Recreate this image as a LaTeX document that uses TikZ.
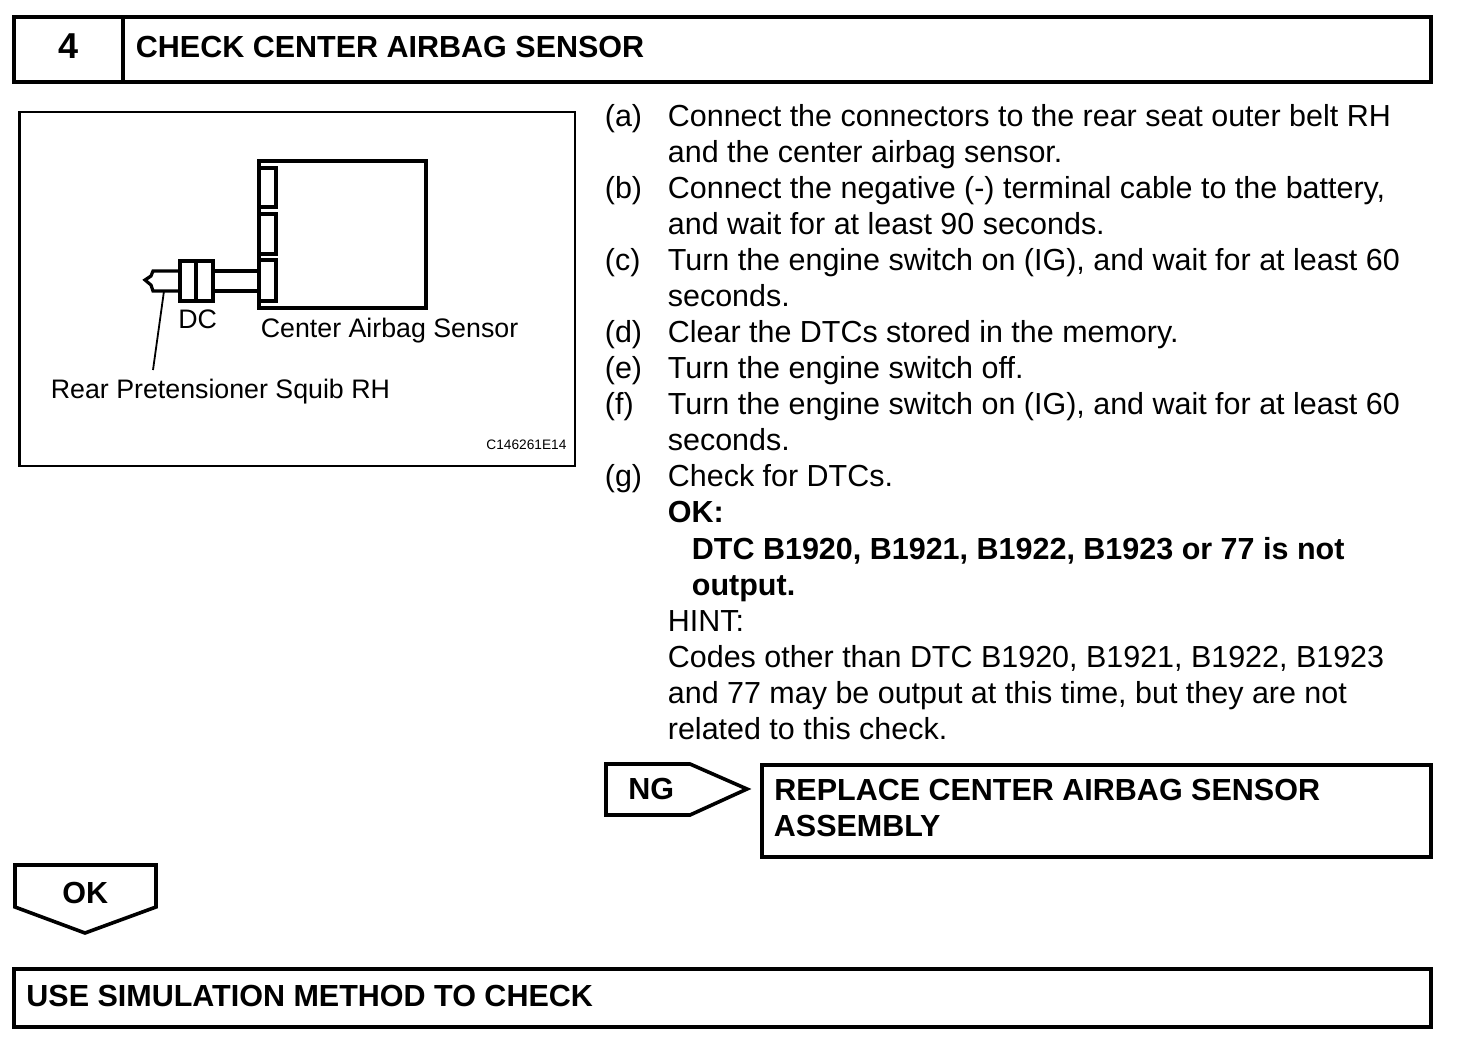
\documentclass[tikz,border=0pt]{standalone}
\usepackage{fontspec}
\setmainfont{Liberation Sans}
\tikzset{
  heavy/.style={line width=1.8pt, line join=miter},
  medium/.style={line width=1.6pt, line join=miter},
  framed/.style={line width=1.3pt},
  bodytext/.style={anchor=base west, inner sep=0pt, font=\fontsize{15.23}{18}\selectfont},
  boldtext/.style={bodytext, font=\fontsize{15.25}{18}\selectfont\bfseries},
  figtext/.style={anchor=base west, inner sep=0pt, font=\fontsize{13.38}{15}\selectfont}
}
\begin{document}
\begin{tikzpicture}[x=0.5pt, y=-0.5pt]
  \useasboundingbox (0,0) rectangle (1472,1054);
  % header
  \draw[heavy] (14,17) rectangle (1431,82);
  \draw[heavy] (123,17) -- (123,82);
  \node[boldtext, font=\fontsize{18}{20}\selectfont\bfseries] (stepno) at (58,59) {4};
  \node[boldtext] (steptitle) at (135.5,58) {CHECK CENTER AIRBAG SENSOR};
  % figure
  \draw[framed] (19.5,112) rectangle (575,466);
  \draw[medium] (259,161) rectangle (426,308);
  \draw[medium] (259,168) rectangle (276,207);
  \draw[medium] (259,214) rectangle (276,254);
  \draw[medium] (259,260) rectangle (276,301);
  \draw[medium] (180,261) rectangle (213,301);
  \draw[medium] (196,261) -- (196,301);
  \coordinate (plugtop) at (180,271);
  \coordinate (plugbot) at (180,291);
  \coordinate (socktop) at (259,271);
  \coordinate (sockbot) at (259,291);
  \coordinate (dctop) at (213,271);
  \coordinate (dcbot) at (213,291);
  \draw[medium] (dctop) -- (socktop);
  \draw[medium] (dcbot) -- (sockbot);
  \draw[medium] (plugtop) -- (153,271) -- (151,276) -- (145,280) -- (151,285) -- (153,291) -- (plugbot);
  \coordinate (squibpt) at (164,291);
  \coordinate (squibend) at (153,370);
  \draw[line width=0.9pt] (squibpt) -- (squibend);
  \node[figtext] (dclabel) at (178,328) {DC};
  \node[figtext] (sensorlabel) at (260.5,337) {Center Airbag Sensor};
  \node[figtext] (squiblabel) at (50.5,398) {Rear Pretensioner Squib RH};
  \node[figtext, font=\fontsize{6.85}{8}\selectfont] (figcode) at (486,449) {C146261E14};
  % steps
  \foreach \y/\mark in {126.5/a, 198.5/b, 270.5/c, 342.5/d, 378.5/e, 414.5/f, 486.5/g}
    \node[bodytext] (mark\mark) at (604.5,\y) {(\mark)};
  \foreach \y/\txt in {126.5/Connect the connectors to the rear seat outer belt RH,
      162.5/and the center airbag sensor.,
      198.5/{Connect the negative (-) terminal cable to the battery,},
      234.5/{and wait for at least 90 seconds.},
      270.5/{Turn the engine switch on (IG), and wait for at least 60},
      306.5/seconds.,
      342.5/Clear the DTCs stored in the memory.,
      378.5/Turn the engine switch off.,
      414.5/{Turn the engine switch on (IG), and wait for at least 60},
      450.5/seconds.,
      486.5/Check for DTCs.,
      631.5/HINT:,
      667.5/{Codes other than DTC B1920, B1921, B1922, B1923},
      703.5/{and 77 may be output at this time, but they are not},
      739.5/related to this check.}
    \node[bodytext] (line\y) at (667.5,\y) {\txt};
  \node[boldtext] (oklabel) at (667.5,522.5) {OK:};
  \node[boldtext] (okline) at (691.5,559) {DTC B1920, B1921, B1922, B1923 or 77 is not};
  \node[boldtext] (okrest) at (691.5,595) {output.};
  % NG branch
  \draw[heavy] (606,764) -- (690,764) -- (747,789) -- (690,815) -- (606,815) -- cycle;
  \node[boldtext] (nglabel) at (628,799) {NG};
  \draw[heavy] (762,765) rectangle (1431,857);
  \node[boldtext] (ngfirst) at (774,800) {REPLACE CENTER AIRBAG SENSOR};
  \node[boldtext] (ngsecond) at (773.5,836) {ASSEMBLY};
  % OK branch
  \draw[heavy] (15,865) -- (156,865) -- (156,907) -- (85,933) -- (15,907) -- cycle;
  \node[boldtext] (oktext) at (62,903) {OK};
  \draw[heavy] (14,969) rectangle (1431,1027);
  \node[boldtext] (endtext) at (26,1006) {USE SIMULATION METHOD TO CHECK};
\end{tikzpicture}
\end{document}
